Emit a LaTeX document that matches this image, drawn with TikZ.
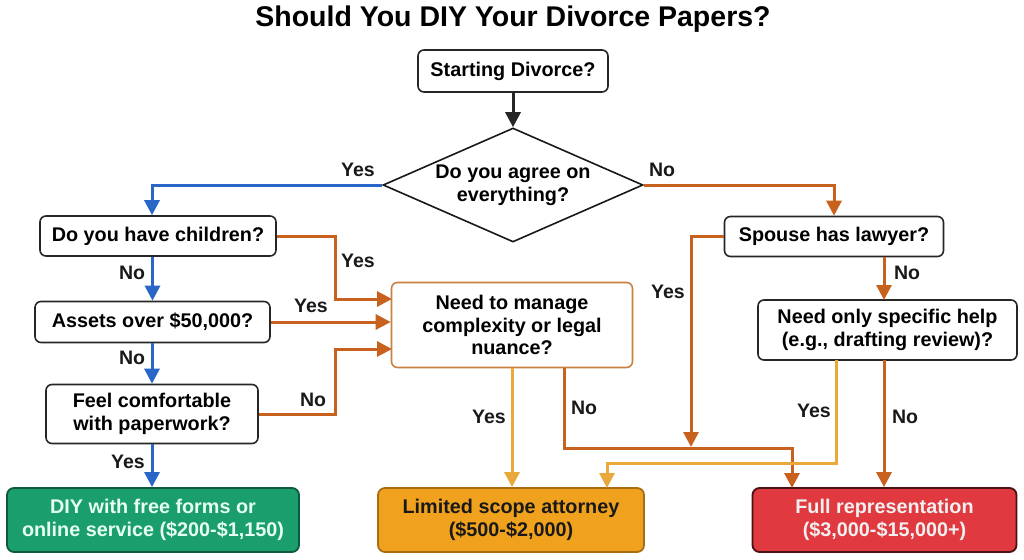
\documentclass[tikz,border=0pt]{standalone}
\usepackage{fontspec}
\setmainfont{Liberation Sans}
\usetikzlibrary{arrows.meta,shapes.geometric,calc}
\definecolor{cblue}{HTML}{2A66C8}
\definecolor{corange}{HTML}{C8601E}
\definecolor{camber}{HTML}{E8A83A}
\definecolor{cneed}{HTML}{C98040}
\definecolor{cgreen}{HTML}{1B9E6E}
\definecolor{cgreenb}{HTML}{0F5A3E}
\definecolor{cgreent}{HTML}{E6FFF0}
\definecolor{clim}{HTML}{F0A21E}
\definecolor{climb}{HTML}{A86C12}
\definecolor{cfull}{HTML}{E0393F}
\definecolor{cfullb}{HTML}{4A1212}
\tikzset{
  qbox/.style={draw=black!85, line width=1.6pt, rounded corners=6pt, fill=white,
    font=\bfseries\fontsize{19.8}{22.5}\selectfont, align=center, inner sep=0pt},
  endbox/.style={line width=1.8pt, rounded corners=7pt,
    font=\bfseries\fontsize{19.8}{23}\selectfont, align=center, inner sep=0pt},
  lbl/.style={font=\bfseries\fontsize{19.5}{22}\selectfont, text=black!90},
  tip/.style={-{Triangle[length=15pt,width=15pt]}},
  blue arrow/.style={tip, draw=cblue, line width=3pt},
  dark arrow/.style={tip, draw=corange, line width=3pt},
  amber arrow/.style={tip, draw=camber, line width=3pt},
}
\begin{document}
\begin{tikzpicture}[x=1pt,y=-1pt]
\useasboundingbox[fill=white] (0,0) rectangle (1024,559);

\node[font=\bfseries\fontsize{28.5}{32}\selectfont] (title) at (513,19) {Should You DIY Your Divorce Papers?};

\node[qbox, minimum width=190pt, minimum height=42pt] (start) at (513,71) {Starting Divorce?};
\node[draw=black!90, line width=1.6pt, fill=white, shape=diamond, inner sep=0pt,
      minimum width=260pt, minimum height=114pt] (dia) at (513,185) {};
\node[font=\bfseries\fontsize{19.8}{23}\selectfont, align=center] (diat) at (513,185) {Do you agree on\\everything?};

\node[qbox, minimum width=236pt, minimum height=40pt] (children) at (158,236) {Do you have children?};
\node[qbox, minimum width=235pt, minimum height=41pt] (assets) at (152.5,322) {Assets over \$50,000?};
\node[qbox, minimum width=212pt, minimum height=59pt] (comf) at (152,414) {Feel comfortable\\with paperwork?};
\node[endbox, draw=cgreenb, fill=cgreen, text=cgreent, minimum width=292pt, minimum height=64pt] (diy) at (153,520) {DIY with free forms or\\online service (\$200-\$1,150)};

\node[qbox, draw=cneed, minimum width=241pt, minimum height=85pt] (need) at (512,325) {Need to manage\\complexity or legal\\nuance?};
\node[qbox, minimum width=219pt, minimum height=40pt] (spouse) at (834,236.5) {Spouse has lawyer?};
\node[qbox, minimum width=259pt, minimum height=60pt] (spec) at (887.5,330) {Need only specific help\\(e.g., drafting review)?};

\node[endbox, draw=climb, fill=clim, text=black!90, minimum width=266pt, minimum height=64pt] (lim) at (511,520) {Limited scope attorney\\(\$500-\$2,000)};
\node[endbox, draw=cfullb, fill=cfull, text=white!94!black, minimum width=264pt, minimum height=64pt] (full) at (884.5,520) {Full representation\\(\$3,000-\$15,000+)};

% helper coordinates
\coordinate (kx) at (335,0);
\coordinate (nin1) at (392,299);
\coordinate (nin3) at (392,349);
\coordinate (nout2) at (564,367.5);
\coordinate (jy) at (0,448);
\coordinate (fin1) at (792,488);
\coordinate (sx) at (691,0);
\coordinate (sy) at (0,447);
\coordinate (spy) at (836,360);
\coordinate (spn) at (884,360);
\coordinate (sbn) at (884,256.5);
\coordinate (sin) at (884,300);
\coordinate (jy2) at (0,463);
\coordinate (lin2) at (607,488);

% connectors
\draw[tip, line width=3pt, draw=black!85] (start.south) -- (dia.north);
\draw[blue arrow] (dia.west) -| ([xshift=-6pt]children.north);
\draw[blue arrow] (children.south -| assets.north) -- (assets.north);
\draw[blue arrow] (comf.north |- assets.south) -- (comf.north);
\draw[blue arrow] (comf.south) -- (comf.south |- diy.north);
\draw[dark arrow] (dia.east) -| (spouse.north);

\draw[dark arrow] (children.east) -| (kx |- nin1) -- (nin1);
\draw[dark arrow] (assets.east) -- (assets.east -| need.west);
\draw[dark arrow] (comf.east) -| (kx |- nin3) -- (nin3);

\draw[amber arrow] (need.south) -- (need.south |- lim.north);
\draw[dark arrow] (nout2) |- (fin1 |- jy) -- (fin1);
\draw[dark arrow] (spouse.west) -| (sx |- sy);
\draw[dark arrow] (sbn) -- (sin);
\draw[amber arrow] (spy) |- (lin2 |- jy2) -- (lin2);
\draw[dark arrow] (spn) -- (spn |- full.north);

% labels
\node[lbl] (l1) at (358,170) {Yes};
\node[lbl] (l2) at (662,170) {No};
\node[lbl] (l3) at (358,261) {Yes};
\node[lbl] (l4) at (132,273) {No};
\node[lbl] (l5) at (311,306) {Yes};
\node[lbl] (l6) at (132,358) {No};
\node[lbl] (l7) at (313,400) {No};
\node[lbl] (l8) at (128,462) {Yes};
\node[lbl] (l9) at (489,417) {Yes};
\node[lbl] (l10) at (584,408) {No};
\node[lbl] (l11) at (668,292) {Yes};
\node[lbl] (l12) at (907,273) {No};
\node[lbl] (l13) at (814,411) {Yes};
\node[lbl] (l14) at (905,417) {No};
\end{tikzpicture}
\end{document}
